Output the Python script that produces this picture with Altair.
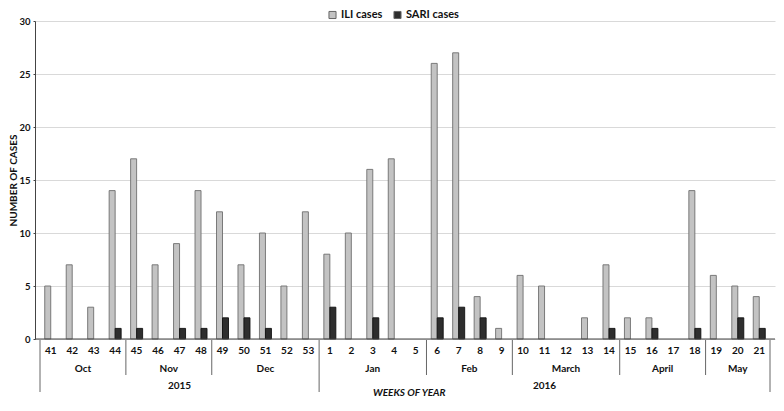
import altair as alt
import pandas as pd

weeks = [41, 42, 43, 44, 45, 46, 47, 48, 49, 50, 51, 52, 53,
         1, 2, 3, 4, 5, 6, 7, 8, 9, 10, 11, 12, 13, 14, 15, 16, 17, 18, 19, 20, 21]
ili = [5, 7, 3, 14, 17, 7, 9, 14, 12, 7, 10, 5, 12,
       8, 10, 16, 17, 0, 26, 27, 4, 1, 6, 5, 0, 2, 7, 2, 2, 0, 14, 6, 5, 4]
sari = [0, 0, 0, 1, 1, 0, 1, 1, 2, 2, 1, 0, 0,
        3, 0, 2, 0, 0, 2, 3, 2, 0, 0, 0, 0, 0, 1, 0, 1, 0, 1, 0, 2, 1]
months = ["Oct", "Nov", "Dec", "Jan", "Feb", "March", "April", "May"]
month_counts = [4, 4, 5, 5, 4, 5, 4, 3]
years = ["2015", "2016"]
year_counts = [13, 21]

PL, PT, PR, PB = 27, 13, 1, 59
W, H = 768 - PL - PR, 318
FONT = "Lato"

df = pd.DataFrame({"idx": [i + 0.5 for i in range(len(weeks))],
                   "week": [str(w) for w in weeks], "ILI": ili, "SARI": sari})

mrows, brows = [], []
pos = 0
for m, c in zip(months, month_counts):
    mrows.append({"mid": pos + c / 2, "label": m})
    pos += c
    brows.append({"b": pos})
mdf = pd.DataFrame(mrows)
yrows = []
pos = 0
for y, c in zip(years, year_counts):
    yrows.append({"mid": pos + c / 2, "label": y})
    pos += c
ydf = pd.DataFrame(yrows)
year_bounds = [0, 13, 34]
brows = [r for r in brows if r["b"] not in year_bounds]
mbdf = pd.DataFrame(brows)
ybdf = pd.DataFrame({"b": year_bounds})

xs = alt.Scale(domain=[0, 34], nice=False, zero=False)
ys = alt.Scale(domain=[0, 30], nice=False)
cscale = alt.Scale(domain=["ILI cases", "SARI cases"], range=["#c3c3c3", "#2e2e2e"])
legend = alt.Legend(
    title=None, orient="none", direction="horizontal", legendX=292, legendY=-12,
    symbolType="square", symbolSize=50, symbolStrokeColor="#666", symbolStrokeWidth=1,
    labelFont=FONT, labelFontWeight="bold", labelFontSize=11, labelColor="#111",
    columnPadding=8, labelOffset=3, padding=0)

base = alt.Chart(df)
ili_bar = base.transform_filter("datum.ILI > 0").transform_calculate(
    series="'ILI cases'").mark_bar(width=6, xOffset=-3, stroke="#6e6e6e", strokeWidth=0.9).encode(
    x=alt.X("idx:Q", scale=xs, axis=None),
    y=alt.Y("ILI:Q", scale=ys, axis=alt.Axis(
        values=[0, 5, 10, 15, 20, 25, 30], title="NUMBER OF CASES",
        grid=True, gridColor="#d9d9d9", domainColor="#444", tickColor="#444",
        tickSize=2, labelPadding=3, labelFont=FONT, labelFontWeight="bold",
        labelFontSize=9.5, labelColor="#111", titleFont=FONT, titleFontWeight="bold",
        titleFontSize=10, titleColor="#111", titleX=-17, titleY=H / 2,
        titleAngle=270, titleBaseline="bottom", titleAlign="center")),
    color=alt.Color("series:N", scale=cscale, legend=legend),
)
sari_bar = base.transform_filter("datum.SARI > 0").transform_calculate(
    series="'SARI cases'").mark_bar(width=6, xOffset=3, stroke="#111", strokeWidth=0.9).encode(
    x=alt.X("idx:Q", scale=xs),
    y=alt.Y("SARI:Q", scale=ys),
    color=alt.Color("series:N", scale=cscale, legend=legend),
)

baseline = alt.Chart(pd.DataFrame({"v": [0]})).mark_rule(color="#444", strokeWidth=1).encode(
    y=alt.Y("v:Q", scale=ys), x=alt.value(0), x2=alt.value(W))

week_txt = base.mark_text(font=FONT, fontWeight="bold", fontSize=10, color="#111").encode(
    x=alt.X("idx:Q", scale=xs), y=alt.value(H + 12), text="week:N")
month_txt = alt.Chart(mdf).mark_text(font=FONT, fontWeight="bold", fontSize=10, color="#111").encode(
    x=alt.X("mid:Q", scale=xs), y=alt.value(H + 30), text="label:N")
year_txt = alt.Chart(ydf).mark_text(font=FONT, fontWeight="bold", fontSize=10, color="#111").encode(
    x=alt.X("mid:Q", scale=xs), y=alt.value(H + 47), text="label:N")
title_txt = alt.Chart(pd.DataFrame({"t": ["WEEKS OF YEAR"], "x": [17.2]})).mark_text(
    font=FONT, fontWeight="bold", fontStyle="italic", fontSize=10, color="#111").encode(
    x=alt.X("x:Q", scale=xs), y=alt.value(H + 54), text="t:N")

mrules = alt.Chart(mbdf).mark_rule(color="#666", strokeWidth=1).encode(
    x=alt.X("b:Q", scale=xs), y=alt.value(H + 1), y2=alt.value(H + 36))
yrules = alt.Chart(ybdf).mark_rule(color="#666", strokeWidth=1).encode(
    x=alt.X("b:Q", scale=xs), y=alt.value(H + 1), y2=alt.value(H + 53))

chart = alt.layer(ili_bar, sari_bar, baseline, week_txt, month_txt, year_txt, title_txt,
                  mrules, yrules).properties(
    width=W, height=H,
    autosize=alt.AutoSizeParams(type="none"),
    padding={"left": PL, "top": PT, "right": PR, "bottom": PB},
).configure_view(stroke=None)

chart.save("out.html", embed_options={"renderer": "svg", "actions": False})
